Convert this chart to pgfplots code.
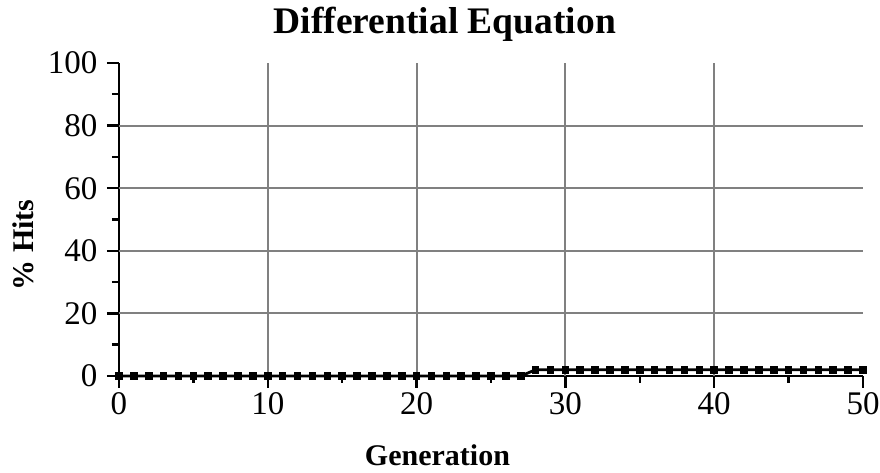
\documentclass[border=0pt]{standalone}
\usepackage{pgfplots}
\pgfplotsset{compat=1.18}
\usepackage{fontspec}
\setmainfont{Liberation Serif}
\definecolor{gridgray}{RGB}{128,128,128}
\begin{document}
\begin{tikzpicture}
\begin{axis}[
  at={(0,0)}, anchor=south west,
  scale only axis, width=744pt, height=313pt,
  xmin=0, xmax=50, ymin=0, ymax=100,
  axis lines=left, axis line style={-, line width=2.4pt, black},
  xtick={0,10,20,30,40,50}, ytick={0,20,40,60,80,100},
  minor xtick={5,15,25,35,45}, minor ytick={10,30,50,70,90},
  tick align=outside, tick pos=left,
  major tick length=12pt, minor tick length=7pt,
  every tick/.style={black, line width=2.4pt},
  tick label style={font=\fontsize{33}{33}\selectfont},
  xticklabel style={yshift=-1pt},
  yticklabel style={xshift=-6pt},
  /pgf/number format/assume math mode=true,
  extra x ticks={10,20,30,40}, extra y ticks={20,40,60,80},
  extra x tick labels={}, extra y tick labels={},
  extra tick style={grid=major, major tick length=0pt},
  grid style={gridgray, line width=2pt},
  xlabel={\textbf{Generation}}, ylabel={\textbf{\% Hits}},
  label style={font=\fontsize{30}{30}\selectfont},
  xlabel style={at={(axis description cs:0.428,-0.252)}, anchor=center},
  ylabel style={at={(axis description cs:-0.129,0.419)}, anchor=center, rotate=0},
  title={\textbf{Differential Equation}},
  title style={font=\fontsize{37.5}{37.5}\selectfont, at={(axis description cs:0.438,1.105)}, anchor=center},
  clip=false,
]
\addplot[black, line width=2.8pt, mark=square*, mark size=3.3pt, mark options={line width=0pt}] coordinates {
(0,0)(1,0)(2,0)(3,0)(4,0)(5,0)(6,0)(7,0)(8,0)(9,0)(10,0)
(11,0)(12,0)(13,0)(14,0)(15,0)(16,0)(17,0)(18,0)(19,0)(20,0)
(21,0)(22,0)(23,0)(24,0)(25,0)(26,0)(27,0)
(28,2)(29,2)(30,2)(31,2)(32,2)(33,2)(34,2)(35,2)(36,2)(37,2)(38,2)(39,2)(40,2)
(41,2)(42,2)(43,2)(44,2)(45,2)(46,2)(47,2)(48,2)(49,2)(50,2)
};
\end{axis}
\pgfresetboundingbox
\useasboundingbox (-119pt,-97pt) rectangle (761pt,376pt);
\end{tikzpicture}
\end{document}
